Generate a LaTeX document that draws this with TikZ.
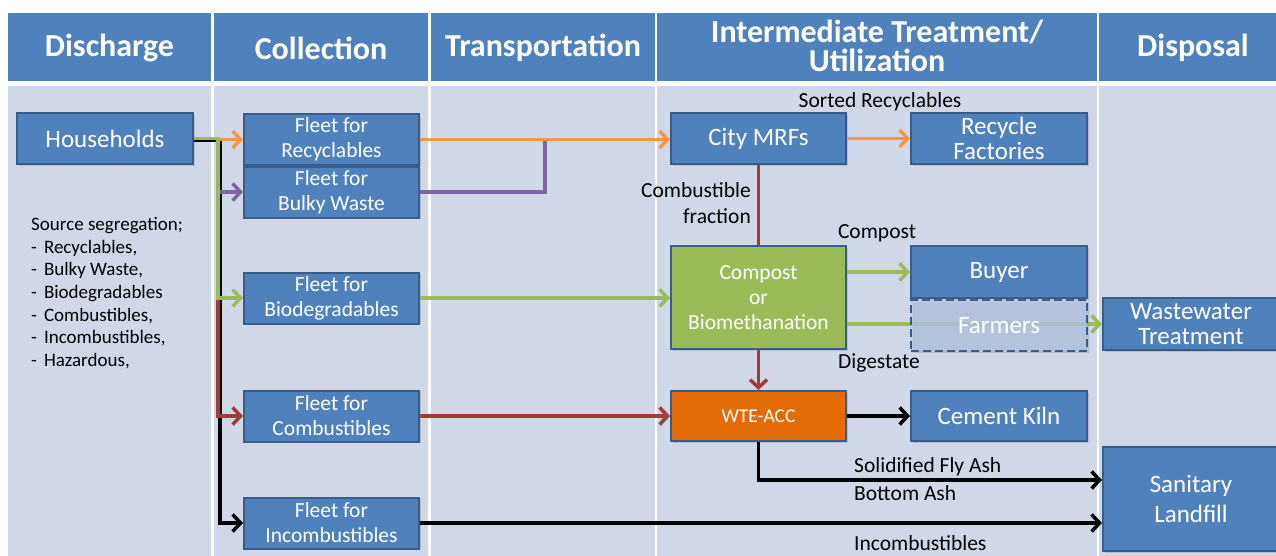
\documentclass[tikz,border=0pt]{standalone}
\usepackage{fontspec}
\setmainfont{Carlito}
\usetikzlibrary{arrows.meta,shadows,calc}
\definecolor{hdr}{HTML}{4F81BD}
\definecolor{bodyc}{HTML}{D0D8E8}
\definecolor{nodeblue}{HTML}{4F81BD}
\definecolor{bdr}{HTML}{385D8A}
\definecolor{grn}{HTML}{9BBB59}
\definecolor{orgbox}{HTML}{E36C09}
\definecolor{farmc}{HTML}{B4C6E2}
\definecolor{orgl}{HTML}{F79646}
\definecolor{purl}{HTML}{8064A2}
\definecolor{redl}{HTML}{A03C3A}
\tikzset{
  cellhdr/.style={fill=hdr},
  cellbody/.style={fill=bodyc},
  hdrtxt/.style={text=white, font=\fontsize{32}{29}\selectfont\bfseries, align=center, inner sep=0pt},
  box/.style={draw=bdr, line width=2pt, fill=nodeblue, text=white, minimum width=175pt, minimum height=51pt,
    inner sep=2pt, align=center, font=\fontsize{25}{25.5}\selectfont,
    drop shadow={opacity=0.3, shadow xshift=1.5pt, shadow yshift=-1.5pt}},
  fleet/.style={box, font=\fontsize{21.5}{25}\selectfont},
  lbl/.style={font=\fontsize{21.5}{26}\selectfont, text=black, inner sep=0pt, align=center},
  arr/.style={line width=3.5pt, -{Straight Barb[length=8pt,width=17pt]}},
  ln/.style={line width=3.5pt}
}
\begin{document}
\begin{tikzpicture}[x=1pt,y=-1pt]
\useasboundingbox (0,0) rectangle (1276,555);
\fill[white] (0,0) rectangle (1276,555);
% header cells
\fill[cellhdr] (8,13) rectangle (211,81);
\fill[cellhdr] (214,13) rectangle (428,81);
\fill[cellhdr] (431,13) rectangle (655,81);
\fill[cellhdr] (657,13) rectangle (1097,81);
\fill[cellhdr] (1099,13) rectangle (1290,81);
% body cells
\fill[cellbody] (8,86) rectangle (211,560);
\fill[cellbody] (214,86) rectangle (428,560);
\fill[cellbody] (431,86) rectangle (655,560);
\fill[cellbody] (657,86) rectangle (1097,560);
\fill[cellbody] (1099,86) rectangle (1290,560);
% header texts
\node[hdrtxt] (h1) at (109.5,48) {Discharge};
\node[hdrtxt] (h2) at (321,48) {Collection};
\node[hdrtxt] (h3) at (543,48) {Transportation};
\node[hdrtxt] (h4) at (877,46) {Intermediate Treatment/\\Utilization};
\node[hdrtxt] (h5) at (1193,48) {Disposal};

% nodes
\node[box, minimum width=176pt] (hh) at (105,138.5) {Households};
\node[fleet] (fr) at (331.5,139.5) {Fleet for\\Recyclables};
\node[fleet] (fb) at (331.5,192) {Fleet for\\Bulky Waste};
\node[fleet] (fbio) at (331.5,298) {Fleet for\\Biodegradables};
\node[fleet] (fc) at (331.5,416) {Fleet for\\Combustibles};
\node[fleet] (fi) at (331.5,523) {Fleet for\\Incombustibles};
\node[box] (mrf) at (758.5,138.5) {City MRFs};
\node[box, minimum width=176pt] (rf) at (999,138.5) {Recycle\\Factories};
\node[fleet, fill=grn, minimum height=103pt] (comp) at (758.5,297.5) {Compost\\or\\Biomethanation};
\node[box, minimum width=176pt, minimum height=52pt] (buyer) at (999,272) {Buyer};
\node[box, minimum width=176pt, minimum height=52pt] (ww) at (1191,324) {Wastewater\\Treatment};
\node[fleet, fill=orgbox, minimum height=50pt, font=\fontsize{19.5}{24}\selectfont] (wte) at (758.5,416) {WTE-ACC};
\node[box, minimum width=176pt, minimum height=50pt] (ck) at (999,416) {Cement Kiln};
\node[box, minimum width=176pt, minimum height=104pt, font=\fontsize{25}{30}\selectfont] (sl) at (1191,499) {Sanitary\\Landfill};

% labels
\node[anchor=north west, align=left, inner sep=0pt, font=\fontsize{19}{22.7}\selectfont] (seg) at (31,217)
 {Source segregation;\\
  -\hspace{7pt}Recyclables,\\
  -\hspace{7pt}Bulky Waste,\\
  -\hspace{7pt}Biodegradables\\
  -\hspace{7pt}Combustibles,\\
  -\hspace{7pt}Incombustibles,\\
  -\hspace{7pt}Hazardous,};
\node[lbl] (lsr) at (880,102) {Sorted Recyclables};
\node[lbl, anchor=east, align=right] (lcf) at (751,203) {Combustible\\fraction};
\node[lbl] (lco) at (877,233) {Compost};
\node[lbl] (ldg) at (879,363) {Digestate};
\node[lbl, anchor=west] (lfa) at (854,467) {Solidified Fly Ash};
\node[lbl, anchor=west] (lba) at (854,493) {Bottom Ash};
\node[lbl, anchor=west] (lic) at (854,543) {Incombustibles};

% junction coordinates
\coordinate (jg) at (218,138.5);
\coordinate (jk) at (220,140);
\coordinate (pj) at (545,139.5);

% connectors from households
\draw[arr, black] ([yshift=-2pt]hh.east) -| (fi.west -| jk) -- (fi.west);
\draw[arr, redl] (jg |- fbio.west) |- (fc.west);
\draw[arr, orgl] (jg |- fr.west) -- (fr.west);
\draw[arr, purl] (jg |- fb.west) -- (fb.west);
\draw[arr, grn] (hh.east) -- (jg) |- (fbio.west);

% transport
\draw[ln, purl] (fb.east) -| (pj);
\draw[arr, orgl] (fr.east) -- (fr.east -| mrf.west);
\draw[arr, grn] (fbio.east) -- (fbio.east -| comp.west);
\draw[arr, redl] (fc.east) -- (fc.east -| wte.west);
\draw[arr, black] (fi.east) -- (fi.east -| sl.west);

% treatment
\draw[arr, orgl] (mrf.east) -- (rf.west);
\draw[ln, redl] (mrf.south) -- (comp.north);
\draw[arr, redl] (comp.south) -- (wte.north);
\draw[arr, grn] (comp.east |- buyer.west) -- (buyer.west);
\draw[arr, grn] (comp.east |- ww.west) -- (ww.west);
\draw[arr, black] (wte.east) -- (ck.west);
\draw[arr, black] (wte.south) |- ([yshift=19pt]sl.west);

% farmers (semi transparent, on top of the line)
\node[box, minimum width=176pt, minimum height=51pt, fill=farmc, fill opacity=0.75, text opacity=1,
      dash pattern=on 8pt off 4pt, drop shadow={opacity=0}] (farm) at (999,325.5) {Farmers};
\end{tikzpicture}
\end{document}
